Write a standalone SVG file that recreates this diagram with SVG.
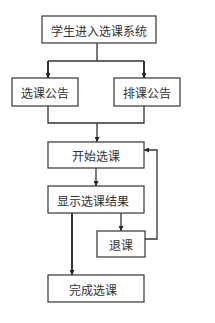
<svg xmlns="http://www.w3.org/2000/svg" width="215" height="323" viewBox="0 0 215 323">
<style>
.box{fill:#fff;stroke:#444;stroke-width:1.3}
.t{font-family:"Noto Sans CJK SC","Noto Sans CJK JP",sans-serif;font-size:12px;fill:#333;text-anchor:middle;dominant-baseline:central}
.c{fill:none;stroke:#333;stroke-width:1.3}
.thick{stroke-width:2}
</style>
<defs>
<marker id="a" viewBox="0 0 10 10" refX="10" refY="5" markerWidth="6" markerHeight="5" orient="auto" markerUnits="userSpaceOnUse">
<path d="M0,0 L10,5 L0,10 z" fill="#222"/>
</marker>
</defs>
<g id="connectors">
<path class="c" d="M97,43 V61"/>
<path class="c" d="M48,61 H144"/>
<path class="c thick" d="M48,61 V78" marker-end="url(#a)"/>
<path class="c thick" d="M144,61 V78" marker-end="url(#a)"/>
<path class="c" d="M48,106 V123 H144 V106"/>
<path class="c" d="M97,123 V142" marker-end="url(#a)"/>
<path class="c" d="M96,168 V186" marker-end="url(#a)"/>
<path class="c thick" d="M72,213 V275" marker-end="url(#a)"/>
<path class="c" d="M121,213 V231" marker-end="url(#a)"/>
<path class="c" d="M145,239 H157 V150 H144" marker-end="url(#a)"/>
</g>
<g id="n1"><rect class="box" x="42" y="16" width="114" height="27"/><text class="t" x="99" y="30">学生进入选课系统</text></g>
<g id="n2"><rect class="box" x="12" y="78" width="66" height="28"/><text class="t" x="45" y="92">选课公告</text></g>
<g id="n3"><rect class="box" x="114" y="78" width="66" height="28"/><text class="t" x="147" y="92">排课公告</text></g>
<g id="n4"><rect class="box" x="48" y="142" width="96" height="26"/><text class="t" x="96" y="155">开始选课</text></g>
<g id="n5"><rect class="box" x="48" y="186" width="96" height="27"/><text class="t" x="93" y="200">显示选课结果</text></g>
<g id="n6"><rect class="box" x="97" y="231" width="48" height="26"/><text class="t" x="121" y="244">退课</text></g>
<g id="n7"><rect class="box" x="48" y="275" width="96" height="27"/><text class="t" x="93" y="289">完成选课</text></g>
</svg>
